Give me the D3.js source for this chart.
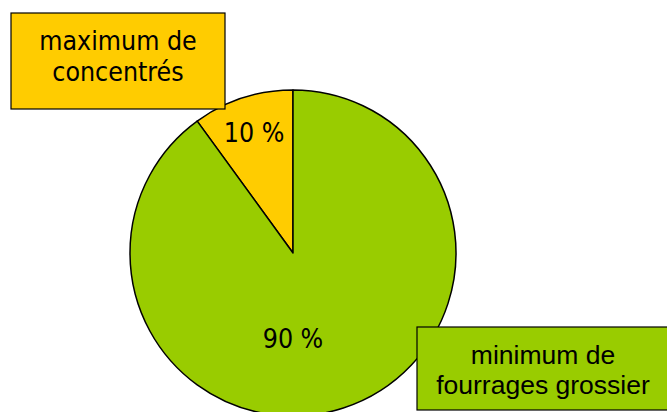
<!DOCTYPE html>
<html>
<head>
<meta charset="utf-8">
<script src="https://cdn.jsdelivr.net/npm/d3@7"></script>
<style>
 body { margin: 0; background: #fff; }
 svg { display: block; }
</style>
</head>
<body>
<svg id="piechart" width="667" height="412"></svg>
<script>
 // data
 let categories = ["maximum de concentrés", "minimum de fourrages grossier"];
 let shares = [10, 90];
 let sliceLabels = ["10 %", "90 %"];
 let boxLines = [["maximum de", "concentrés"], ["minimum de", "fourrages grossier"]];

 const yellow = "#FFCC00";
 const green = "#99CC00";
 const colors = [yellow, green];

 let svg = d3.select("svg#piechart");

 const cx = 293, cy = 253, radius = 163;

 let pieArea = svg.append("g").attr("id", "pie")
                 .attr("transform", `translate(${cx},${cy})`);

 // 10 % slice sits counter-clockwise from 12 o'clock
 let pie = d3.pie().sort(null)
             .startAngle(-2 * Math.PI * shares[0] / 100)
             .endAngle(2 * Math.PI - 2 * Math.PI * shares[0] / 100);

 let arcs = pie(shares);
 let arc = d3.arc().innerRadius(0).outerRadius(radius);

 pieArea.selectAll("path")
        .data(arcs)
        .join("path")
        .attr("d", arc)
        .attr("fill", (d, i) => colors[i])
        .attr("stroke", "black")
        .attr("stroke-width", 1.5)
        .attr("stroke-linejoin", "round");

 // label placement: yellow at its centroid, green label dropped straight below centre
 let labelPos = [
   d3.arc().innerRadius(126).outerRadius(126).centroid(arcs[0]),
   d3.arc().innerRadius(86).outerRadius(86).centroid({startAngle: Math.PI, endAngle: Math.PI})
 ];

 pieArea.selectAll("text")
        .data(arcs)
        .join("text")
        .attr("x", (d, i) => labelPos[i][0])
        .attr("y", (d, i) => labelPos[i][1])
        .attr("dy", "0.35em")
        .attr("text-anchor", "middle")
        .attr("font-family", "'DejaVu Sans Condensed', 'DejaVu Sans', sans-serif")
        .attr("font-size", 26.5)
        .attr("fill", "black")
        .text((d, i) => sliceLabels[i]);

 // callout boxes
 let boxes = [
   {x: 11, y: 13, w: 214, h: 96, font: "'DejaVu Sans Condensed', 'DejaVu Sans', sans-serif", size: 26.5, lineY: [50, 81]},
   {x: 417, y: 327, w: 262, h: 83, font: "'Liberation Sans', Arial, sans-serif", size: 26.5, lineY: [364, 394]}
 ];

 let boxG = svg.append("g").attr("id", "boxes");
 boxes.forEach((b, i) => {
   boxG.append("rect")
       .attr("x", b.x).attr("y", b.y)
       .attr("width", b.w).attr("height", b.h)
       .attr("fill", colors[i])
       .attr("stroke", "black")
       .attr("stroke-width", 1.2);
   let mid = i == 0 ? b.x + b.w / 2 : 543;
   boxLines[i].forEach((line, j) => {
     boxG.append("text")
         .attr("x", mid)
         .attr("y", b.lineY[j])
         .attr("text-anchor", "middle")
         .attr("font-family", b.font)
         .attr("font-size", b.size)
         .attr("fill", "black")
         .text(line);
   });
 });
</script>
</body>
</html>
